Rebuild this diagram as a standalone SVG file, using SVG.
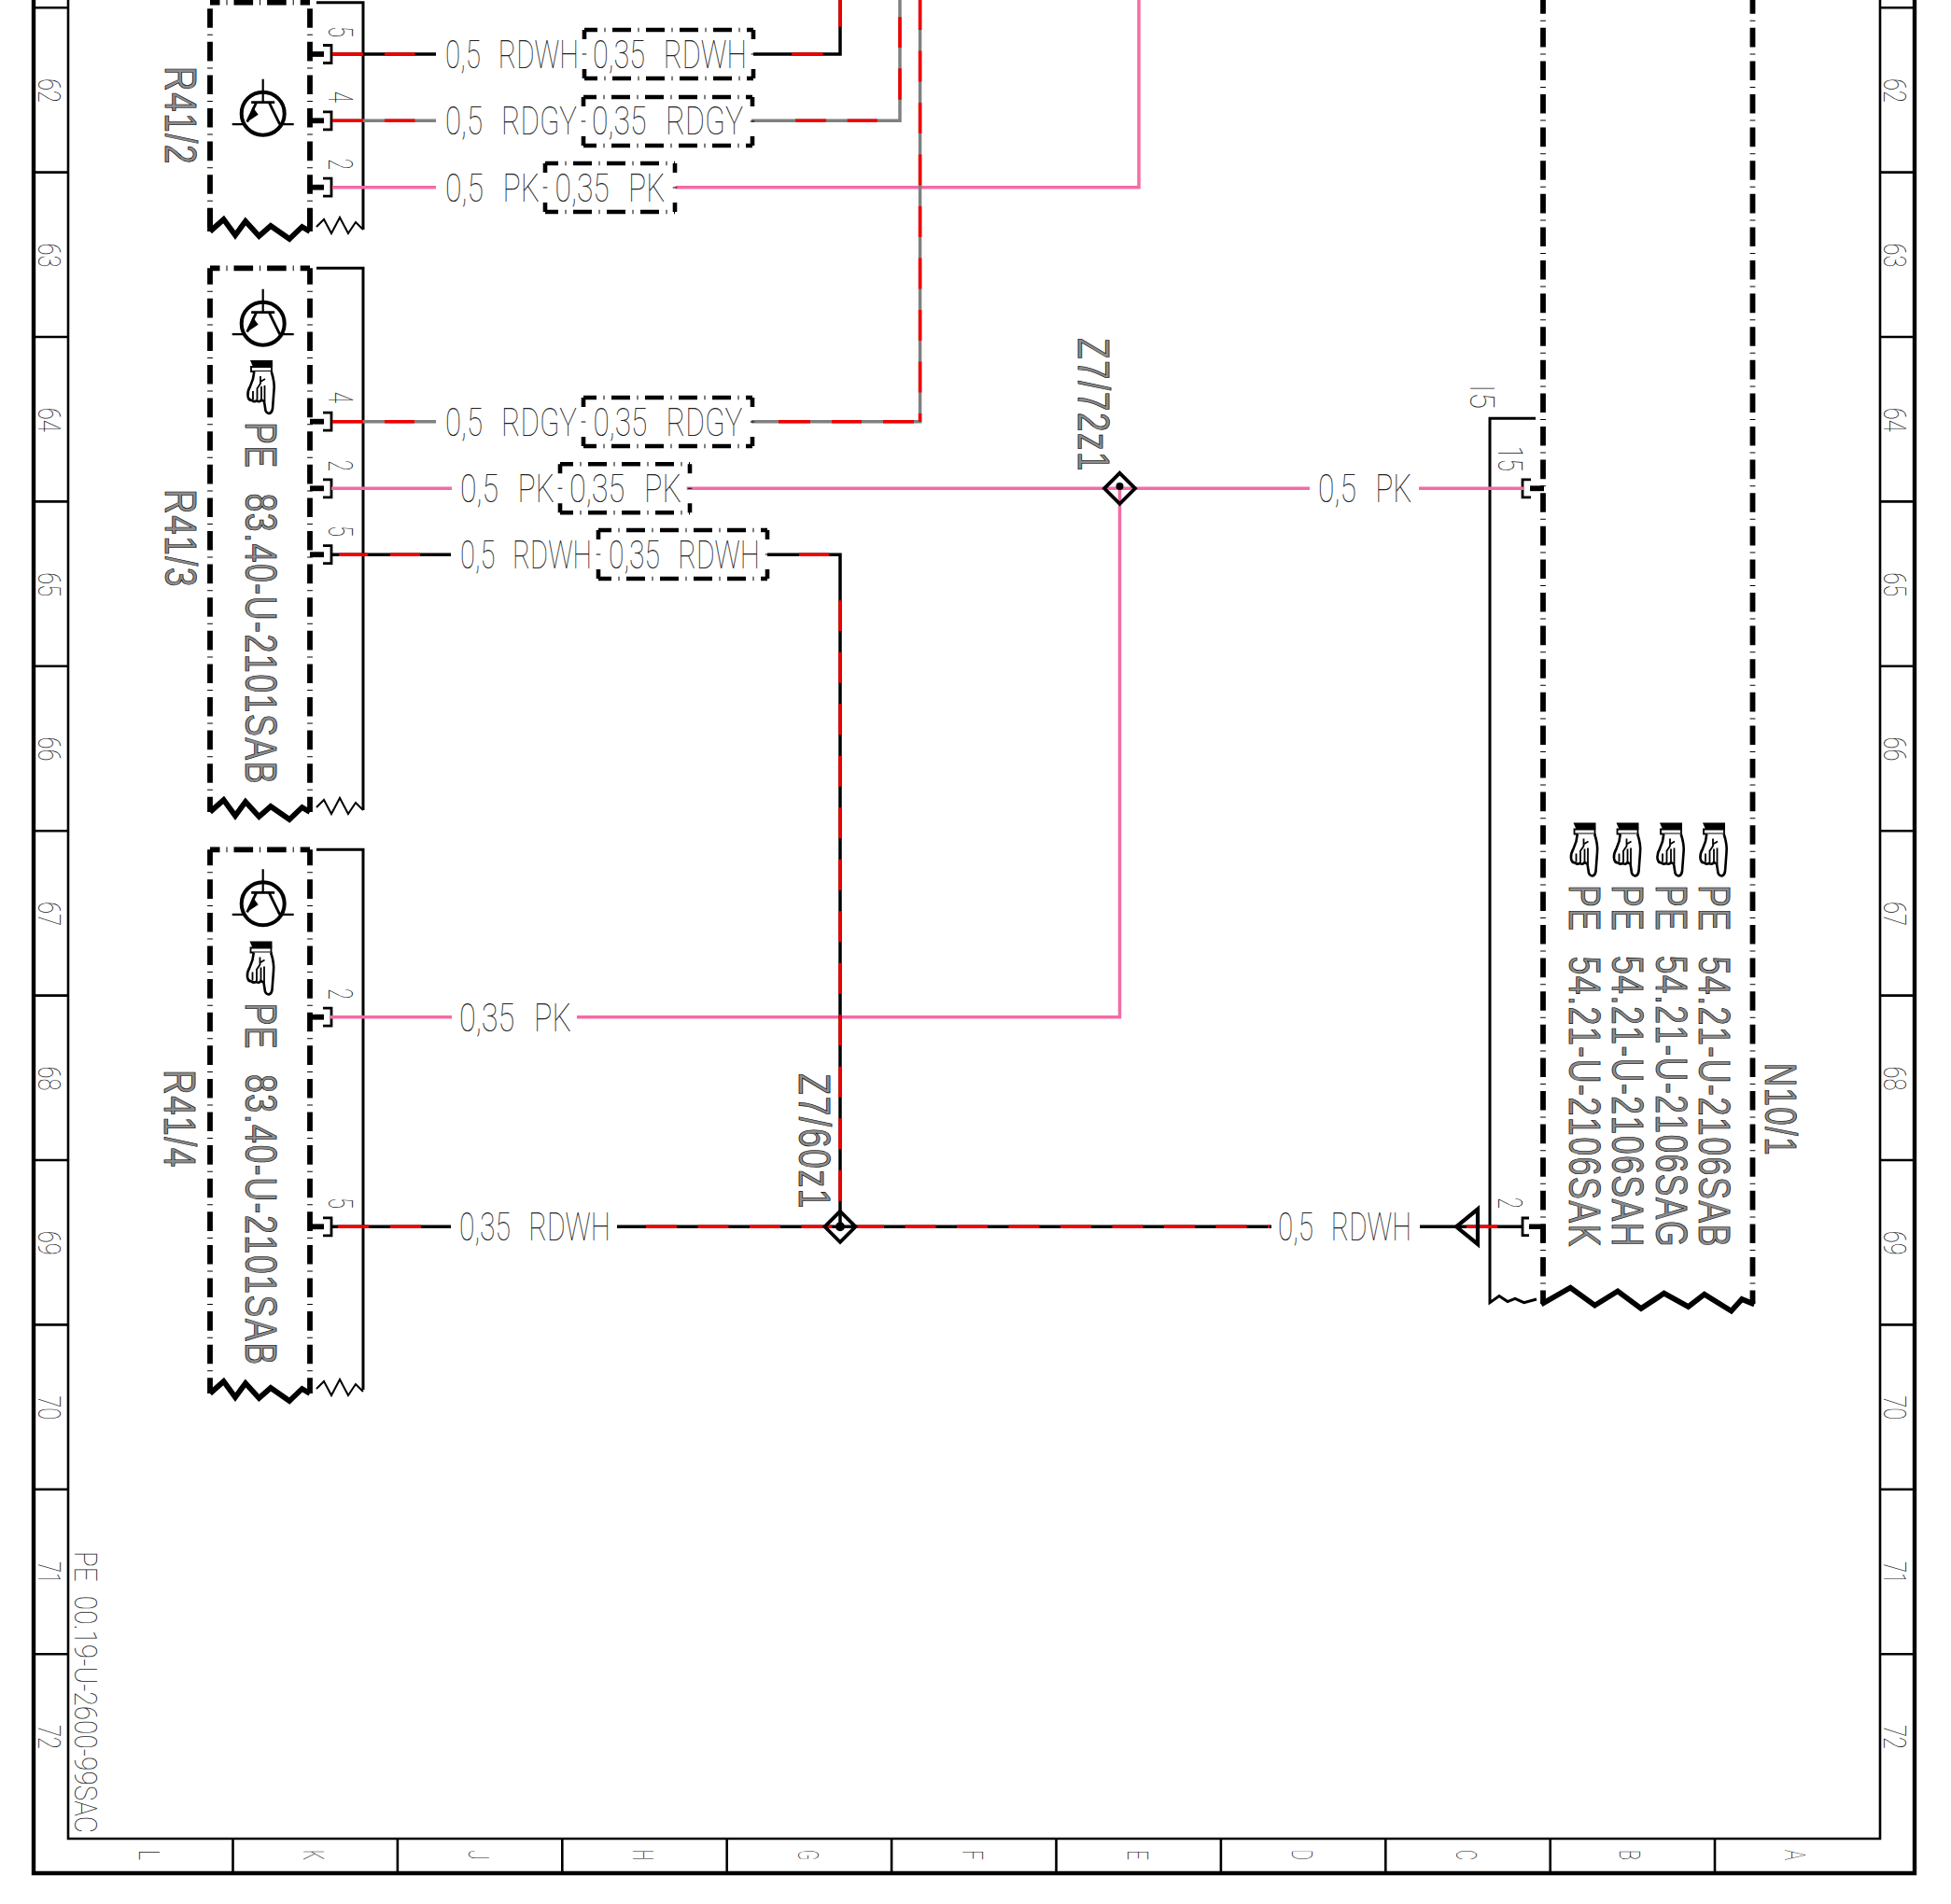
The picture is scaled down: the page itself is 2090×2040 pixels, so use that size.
<svg xmlns="http://www.w3.org/2000/svg" xmlns:xlink="http://www.w3.org/1999/xlink" width="2090" height="2040" viewBox="0 0 2090 2040">
<style>
text{font-family:"Roboto","Liberation Sans",sans-serif}
.t{font-weight:100;fill:#222;font-size:42px;word-spacing:.4em}
.n{font-weight:100;fill:#222;font-size:34px}
.p{font-weight:100;fill:#222;font-size:36px}
.f{font-weight:100;fill:#222;font-size:32px}
.b{font-family:"Liberation Sans",sans-serif;font-size:49px;fill:#8c8c8c;stroke:#000;stroke-width:.7px;word-spacing:.4em;letter-spacing:.04em}
.fr{fill:none;stroke:#000}
.o{stroke-width:4.4}
.i{stroke-width:2.6}
.th{fill:none;stroke:#000;stroke-width:3}
.d{fill:none;stroke:#000;stroke-width:5.8;stroke-dasharray:20.6 7 1 7}
.s{fill:none;stroke:#000;stroke-width:4.6;stroke-dasharray:20 7.5 1 7.5;stroke-dashoffset:6}
.v{fill:none;stroke:#000;stroke-width:4.6;stroke-dasharray:10 15.5 1 15.5 10}
.zt{fill:none;stroke:#000;stroke-width:5.8}
.zn{fill:none;stroke:#000;stroke-width:2}
.w{fill:none;stroke-width:3.5}
.k{stroke:#000}.g{stroke:#808080}.r{stroke:#f00000}.m{stroke:#f26ca6}
.vr{fill:none;stroke:#f00000;stroke-width:3.5;stroke-dasharray:33 22.5}
.term{fill:none;stroke:#000}
.sym{fill:none;stroke:#000}
</style>
<defs>
<g id="lb181"><path class="s" d="M0,0H181M0,52H181"/><path class="v" d="M0,0V52M181,0V52"/></g>
<g id="lb139"><path class="s" d="M0,0H139M0,52H139"/><path class="v" d="M0,0V52M139,0V52"/></g>
<g id="zig"><path class="zt" d="M0,0L14.6,-13L27,4L38,-11L52.5,5L65,-6L85,8L98.6,-5L107,0"/><path class="zn" d="M114,-5L122,-13L130,2L139,-15L148,2L156,-10L164,-2"/></g>
<g id="trans">
<circle class="sym" r="23" stroke-width="4"/>
<path class="sym" stroke-width="2.2" d="M0,-37V-12M-33,11.5H-21M18,11.5H33"/>
<path class="sym" stroke-width="2.8" d="M-12.5,-12H12.5M-7,-12L-17,9M6.5,-12L18,11.5"/>
<path d="M-11,-7L-17,9L-5,1Z" fill="#000"/>
</g>
<g id="hand">
<path d="M0,0H24V7H3Z" fill="#000"/>
<path d="M1,7H23V12H1Z" fill="#fff" stroke="#000" stroke-width="1.8"/>
<path d="M4.3,12L3,20L0,28Q-3,33 -2.5,38Q-2,43 2,43Q4,45 7,43.5Q10,45.5 12,42.5L15,44L16.5,54Q18,57 20.5,57Q23.5,56 24,52L25.5,32Q26.5,24 22.7,12" fill="#fff" stroke="#000" stroke-width="2.6"/>
<path d="M3,33V42M7.5,31V43M12,28V42M15.5,27V44M11,17V25L7,31M11,23L16,20" fill="none" stroke="#000" stroke-width="1.8"/>
</g>
<g id="tr"><path class="term" stroke-width="2.8" d="M346,-9.5H355V9.5H346"/><path class="term" stroke-width="5.8" d="M332,0H347"/></g>
<g id="tl"><path class="term" stroke-width="2.8" d="M9,-9.5H0V9.5H9"/><path class="term" stroke-width="5.8" d="M8,0H23"/></g>
</defs>
<rect width="2090" height="2040" fill="#fff"/>

<g id="frame">
<path class="fr o" d="M36,0V2007H2051V0"/>
<path class="fr i" d="M73,0V1970H2014V0"/>
<path class="fr i" d="M36,8.2H73M36,184.6H73M36,361H73M36,537.4H73M36,713.8H73M36,890.2H73M36,1066.6H73M36,1243H73M36,1419.4H73M36,1595.8H73M36,1772.2H73M2014,8.2H2051M2014,184.6H2051M2014,361H2051M2014,537.4H2051M2014,713.8H2051M2014,890.2H2051M2014,1066.6H2051M2014,1243H2051M2014,1419.4H2051M2014,1595.8H2051M2014,1772.2H2051"/>
<path class="fr i" d="M249.5,1970V2007M425.9,1970V2007M602.3,1970V2007M778.7,1970V2007M955.1,1970V2007M1131.5,1970V2007M1307.9,1970V2007M1484.3,1970V2007M1660.7,1970V2007M1837,1970V2007"/>
<g id="row-left">
<text class="n" transform="translate(41,84) rotate(90)" textLength="26" lengthAdjust="spacingAndGlyphs">62</text>
<text class="n" transform="translate(41,260.4) rotate(90)" textLength="26" lengthAdjust="spacingAndGlyphs">63</text>
<text class="n" transform="translate(41,436.8) rotate(90)" textLength="26" lengthAdjust="spacingAndGlyphs">64</text>
<text class="n" transform="translate(41,613.2) rotate(90)" textLength="26" lengthAdjust="spacingAndGlyphs">65</text>
<text class="n" transform="translate(41,789.6) rotate(90)" textLength="26" lengthAdjust="spacingAndGlyphs">66</text>
<text class="n" transform="translate(41,966) rotate(90)" textLength="26" lengthAdjust="spacingAndGlyphs">67</text>
<text class="n" transform="translate(41,1142.4) rotate(90)" textLength="26" lengthAdjust="spacingAndGlyphs">68</text>
<text class="n" transform="translate(41,1318.8) rotate(90)" textLength="26" lengthAdjust="spacingAndGlyphs">69</text>
<text class="n" transform="translate(41,1495.2) rotate(90)" textLength="26" lengthAdjust="spacingAndGlyphs">70</text>
<text class="n" transform="translate(41,1673) rotate(90)" textLength="24" lengthAdjust="spacingAndGlyphs">71</text>
<text class="n" transform="translate(41,1848) rotate(90)" textLength="26" lengthAdjust="spacingAndGlyphs">72</text>
</g>
<g id="row-right">
<text class="n" transform="translate(2018,84) rotate(90)" textLength="26" lengthAdjust="spacingAndGlyphs">62</text>
<text class="n" transform="translate(2018,260.4) rotate(90)" textLength="26" lengthAdjust="spacingAndGlyphs">63</text>
<text class="n" transform="translate(2018,436.8) rotate(90)" textLength="26" lengthAdjust="spacingAndGlyphs">64</text>
<text class="n" transform="translate(2018,613.2) rotate(90)" textLength="26" lengthAdjust="spacingAndGlyphs">65</text>
<text class="n" transform="translate(2018,789.6) rotate(90)" textLength="26" lengthAdjust="spacingAndGlyphs">66</text>
<text class="n" transform="translate(2018,966) rotate(90)" textLength="26" lengthAdjust="spacingAndGlyphs">67</text>
<text class="n" transform="translate(2018,1142.4) rotate(90)" textLength="26" lengthAdjust="spacingAndGlyphs">68</text>
<text class="n" transform="translate(2018,1318.8) rotate(90)" textLength="26" lengthAdjust="spacingAndGlyphs">69</text>
<text class="n" transform="translate(2018,1495.2) rotate(90)" textLength="26" lengthAdjust="spacingAndGlyphs">70</text>
<text class="n" transform="translate(2018,1673) rotate(90)" textLength="24" lengthAdjust="spacingAndGlyphs">71</text>
<text class="n" transform="translate(2018,1848) rotate(90)" textLength="26" lengthAdjust="spacingAndGlyphs">72</text>
</g>
<g id="cols">
<text class="f" transform="translate(149,1982) rotate(90)" textLength="11" lengthAdjust="spacingAndGlyphs">L</text>
<text class="f" transform="translate(325,1982) rotate(90)" textLength="11" lengthAdjust="spacingAndGlyphs">K</text>
<text class="f" transform="translate(502,1982) rotate(90)" textLength="11" lengthAdjust="spacingAndGlyphs">J</text>
<text class="f" transform="translate(678,1982) rotate(90)" textLength="11" lengthAdjust="spacingAndGlyphs">H</text>
<text class="f" transform="translate(855,1982) rotate(90)" textLength="11" lengthAdjust="spacingAndGlyphs">G</text>
<text class="f" transform="translate(1031,1982) rotate(90)" textLength="11" lengthAdjust="spacingAndGlyphs">F</text>
<text class="f" transform="translate(1208,1982) rotate(90)" textLength="11" lengthAdjust="spacingAndGlyphs">E</text>
<text class="f" transform="translate(1384,1982) rotate(90)" textLength="11" lengthAdjust="spacingAndGlyphs">D</text>
<text class="f" transform="translate(1560,1982) rotate(90)" textLength="11" lengthAdjust="spacingAndGlyphs">C</text>
<text class="f" transform="translate(1735,1982) rotate(90)" textLength="11" lengthAdjust="spacingAndGlyphs">B</text>
<text class="f" transform="translate(1912,1982) rotate(90)" textLength="11" lengthAdjust="spacingAndGlyphs">A</text>
</g>
<text class="n" transform="translate(80,1662) rotate(90)" textLength="302" lengthAdjust="spacingAndGlyphs" style="word-spacing:.3em">PE 00.19-U-2600-99SAC</text>
</g>

<g id="R41-2">
<path class="th" d="M339,2.7H389V246"/>
<path class="d" d="M225,2.7V248M332,2.7V248" style="stroke-dashoffset:29.1"/>
<path class="d" d="M225,2.7H332" style="stroke-dashoffset:10.1"/>
<path class="zt" d="M225,224V248M332,224V248"/>
<use href="#zig" x="225" y="248"/>
<use href="#trans" x="281.7" y="121.7"/>
<text class="b" transform="translate(177,71) rotate(90)" textLength="106" lengthAdjust="spacingAndGlyphs">R41/2</text>
<use href="#tr" y="58"/><use href="#tr" y="129.3"/><use href="#tr" y="200.7"/>
<text class="p" transform="translate(352,28) rotate(90)" textLength="12" lengthAdjust="spacingAndGlyphs">5</text>
<text class="p" transform="translate(352,98) rotate(90)" textLength="12" lengthAdjust="spacingAndGlyphs">4</text>
<text class="p" transform="translate(352,170) rotate(90)" textLength="12" lengthAdjust="spacingAndGlyphs">2</text>
</g>

<g id="R41-3">
<path class="th" d="M339,287.3H389V868"/>
<path class="d" d="M225,287.3V870M332,287.3V870" style="stroke-dashoffset:3.1"/>
<path class="d" d="M225,287.3H332" style="stroke-dashoffset:10.1"/>
<use href="#zig" x="225" y="870"/>
<use href="#trans" x="281.7" y="346.7"/>
<use href="#hand" x="268" y="386"/>
<text class="b" transform="translate(263,452) rotate(90)" textLength="389" lengthAdjust="spacingAndGlyphs">PE 83.40-U-2101SAB</text>
<text class="b" transform="translate(177,524) rotate(90)" textLength="106" lengthAdjust="spacingAndGlyphs">R41/3</text>
<use href="#tr" y="451.7"/><use href="#tr" y="523.3"/><use href="#tr" y="594.2"/>
<text class="p" transform="translate(352,420) rotate(90)" textLength="12" lengthAdjust="spacingAndGlyphs">4</text>
<text class="p" transform="translate(352,493) rotate(90)" textLength="12" lengthAdjust="spacingAndGlyphs">2</text>
<text class="p" transform="translate(352,563) rotate(90)" textLength="12" lengthAdjust="spacingAndGlyphs">5</text>
</g>

<g id="R41-4">
<path class="th" d="M339,910.3H389V1489"/>
<path class="d" d="M225,910.3V1493M332,910.3V1493" style="stroke-dashoffset:3.6"/>
<path class="d" d="M225,910.3H332" style="stroke-dashoffset:10.1"/>
<use href="#zig" x="225" y="1493"/>
<use href="#trans" x="281.7" y="968.3"/>
<use href="#hand" x="267.5" y="1008.5"/>
<text class="b" transform="translate(263,1074.5) rotate(90)" textLength="389" lengthAdjust="spacingAndGlyphs">PE 83.40-U-2101SAB</text>
<text class="b" transform="translate(176,1146) rotate(90)" textLength="106" lengthAdjust="spacingAndGlyphs">R41/4</text>
<use href="#tr" y="1089.7"/><use href="#tr" y="1314.3"/>
<text class="p" transform="translate(352,1059) rotate(90)" textLength="12" lengthAdjust="spacingAndGlyphs">2</text>
<text class="p" transform="translate(352,1283) rotate(90)" textLength="12" lengthAdjust="spacingAndGlyphs">5</text>
</g>

<g id="N10-1">
<path class="th" d="M1645,448.3H1596V1395.7L1606,1388.6L1615,1394.6L1623,1391.4L1632.6,1395.7L1646,1392"/>
<path class="d" d="M1653,0V1397M1877.5,0V1397" style="stroke-dashoffset:5.8"/>
<path class="zt" d="M1651,1397.5L1682.3,1379.6L1708.4,1398.6L1733,1383.4L1758,1402L1782.6,1385.7L1808.6,1400L1825.8,1386.8L1854.6,1404.6L1866,1392L1879.4,1397.5"/>
<use href="#hand" x="1685.5" y="881.5"/><use href="#hand" x="1731.5" y="881.5"/><use href="#hand" x="1778" y="881.5"/><use href="#hand" x="1824" y="881.5"/>
<text class="b" transform="translate(1681,948) rotate(90)" textLength="389" lengthAdjust="spacingAndGlyphs">PE 54.21-U-2106SAK</text>
<text class="b" transform="translate(1727,948) rotate(90)" textLength="389" lengthAdjust="spacingAndGlyphs">PE 54.21-U-2106SAH</text>
<text class="b" transform="translate(1774,948) rotate(90)" textLength="389" lengthAdjust="spacingAndGlyphs">PE 54.21-U-2106SAG</text>
<text class="b" transform="translate(1820,948) rotate(90)" textLength="389" lengthAdjust="spacingAndGlyphs">PE 54.21-U-2106SAB</text>
<text class="b" transform="translate(1891,1139) rotate(90)" textLength="100" lengthAdjust="spacingAndGlyphs">N10/1</text>
<use href="#tl" x="1631" y="523.3"/>
<path class="term" stroke-width="2.8" d="M1638,1305H1631V1323.6H1638"/>
<path class="term" stroke-width="5.4" d="M1638,1314.3H1653V1330"/>
<text class="p" transform="translate(1605,478) rotate(90)" textLength="27" lengthAdjust="spacingAndGlyphs">15</text>
<text class="p" transform="translate(1575,412) rotate(90)" textLength="26" lengthAdjust="spacingAndGlyphs">I5</text>
<text class="p" transform="translate(1605,1283) rotate(90)" textLength="12" lengthAdjust="spacingAndGlyphs">2</text>
</g>

<g id="connectors">
<g class="w m">
<path d="M356,200.7H467M723.6,200.7H1220V0"/>
<path d="M355,523.3H484M735.7,523.3H1403M1520,523.3H1633M1199.5,523.3V1089.7H618M354,1089.7H484"/>
</g>
<g class="w k">
<path d="M356,58H467M807,58H900V0"/>
<path d="M356,594.2H483M822,594.2H900V1314.3"/>
<path d="M356,1314.3H483M661,1314.3H1362M1521,1314.3H1630"/>
</g>
<g class="w g">
<path d="M356,129.3H467M805,129.3H964V0"/>
<path d="M356,451.7H467M805,451.7H985.6V0"/>
</g>
<g class="w r">
<path d="M356,58H389M412,58H444.5M848,58H881.7M900,0V28.7"/>
<path d="M356,129.3H389M412,129.3H444.5M852,129.3H885M907.7,129.3H940M964,106.7V73.3M964,51V18.3"/>
<path d="M356,451.7H389M412,451.7H444M834,451.7H868M891,451.7H923M946,451.7H979"/>
<path d="M363,594.2H394M418,594.2H450M856,594.2H888.3"/>
<path d="M362,1314.3H395M418,1314.3H451M1571,1314.3H1604"/>
</g>
<path class="vr" d="M985.6,0V452" style="stroke-dashoffset:1"/>
<path class="vr" d="M900,643.3V1297"/>
<path class="vr" d="M692,1314.3H1360"/>
</g>

<g id="Z7-60z1">
<path d="M900,1297.8L916.5,1314.3L900,1330.8L883.5,1314.3Z" fill="none" stroke="#000" stroke-width="3.8"/>
<circle cx="900" cy="1314.3" r="5" fill="#000"/>
<text class="b" transform="translate(856,1150) rotate(90)" textLength="146" lengthAdjust="spacingAndGlyphs">Z7/60z1</text>
</g>
<g id="Z7-72z1">
<path d="M1199.5,506.8L1216,523.3L1199.5,539.8L1183,523.3Z" fill="none" stroke="#000" stroke-width="3.8"/>
<circle cx="1199.5" cy="521" r="4" fill="#000"/>
<text class="b" transform="translate(1155,362) rotate(90)" textLength="144" lengthAdjust="spacingAndGlyphs">Z7/72z1</text>
</g>
<g id="triangle"><path d="M1560,1314.3L1583,1295.5V1333Z" fill="none" stroke="#000" stroke-width="4.2"/></g>

<g id="labels">
<use href="#lb181" x="626" y="32"/>
<use href="#lb181" x="625" y="104"/>
<use href="#lb139" x="584" y="175"/>
<use href="#lb181" x="625" y="426"/>
<use href="#lb139" x="600" y="497.3"/>
<use href="#lb181" x="641" y="568"/>
<text class="t" transform="translate(477,73) scale(.75,1)" textLength="190.7" lengthAdjust="spacingAndGlyphs">0,5 RDWH</text>
<text class="t" transform="translate(635,73) scale(.75,1)" textLength="220" lengthAdjust="spacingAndGlyphs">0,35 RDWH</text>
<text class="t" transform="translate(477,144) scale(.75,1)" textLength="188" lengthAdjust="spacingAndGlyphs">0,5 RDGY</text>
<text class="t" transform="translate(634,144) scale(.75,1)" textLength="216" lengthAdjust="spacingAndGlyphs">0,35 RDGY</text>
<text class="t" transform="translate(477,215.5) scale(.75,1)" textLength="134.7" lengthAdjust="spacingAndGlyphs">0,5 PK</text>
<text class="t" transform="translate(594.5,215.5) scale(.75,1)" textLength="157.3" lengthAdjust="spacingAndGlyphs">0,35 PK</text>
<text class="t" transform="translate(477,466.5) scale(.75,1)" textLength="188" lengthAdjust="spacingAndGlyphs">0,5 RDGY</text>
<text class="t" transform="translate(635.5,466.5) scale(.75,1)" textLength="213.3" lengthAdjust="spacingAndGlyphs">0,35 RDGY</text>
<text class="t" transform="translate(493,538) scale(.75,1)" textLength="134.7" lengthAdjust="spacingAndGlyphs">0,5 PK</text>
<text class="t" transform="translate(610,538) scale(.75,1)" textLength="160" lengthAdjust="spacingAndGlyphs">0,35 PK</text>
<text class="t" transform="translate(493,609) scale(.75,1)" textLength="188" lengthAdjust="spacingAndGlyphs">0,5 RDWH</text>
<text class="t" transform="translate(652,609) scale(.75,1)" textLength="216" lengthAdjust="spacingAndGlyphs">0,35 RDWH</text>
<text class="t" transform="translate(1412,538) scale(.75,1)" textLength="134" lengthAdjust="spacingAndGlyphs">0,5 PK</text>
<text class="t" transform="translate(492,1105) scale(.75,1)" textLength="160" lengthAdjust="spacingAndGlyphs">0,35 PK</text>
<text class="t" transform="translate(492,1329) scale(.75,1)" textLength="216" lengthAdjust="spacingAndGlyphs">0,35 RDWH</text>
<text class="t" transform="translate(1369,1329) scale(.75,1)" textLength="190.7" lengthAdjust="spacingAndGlyphs">0,5 RDWH</text>
</g>
</svg>
